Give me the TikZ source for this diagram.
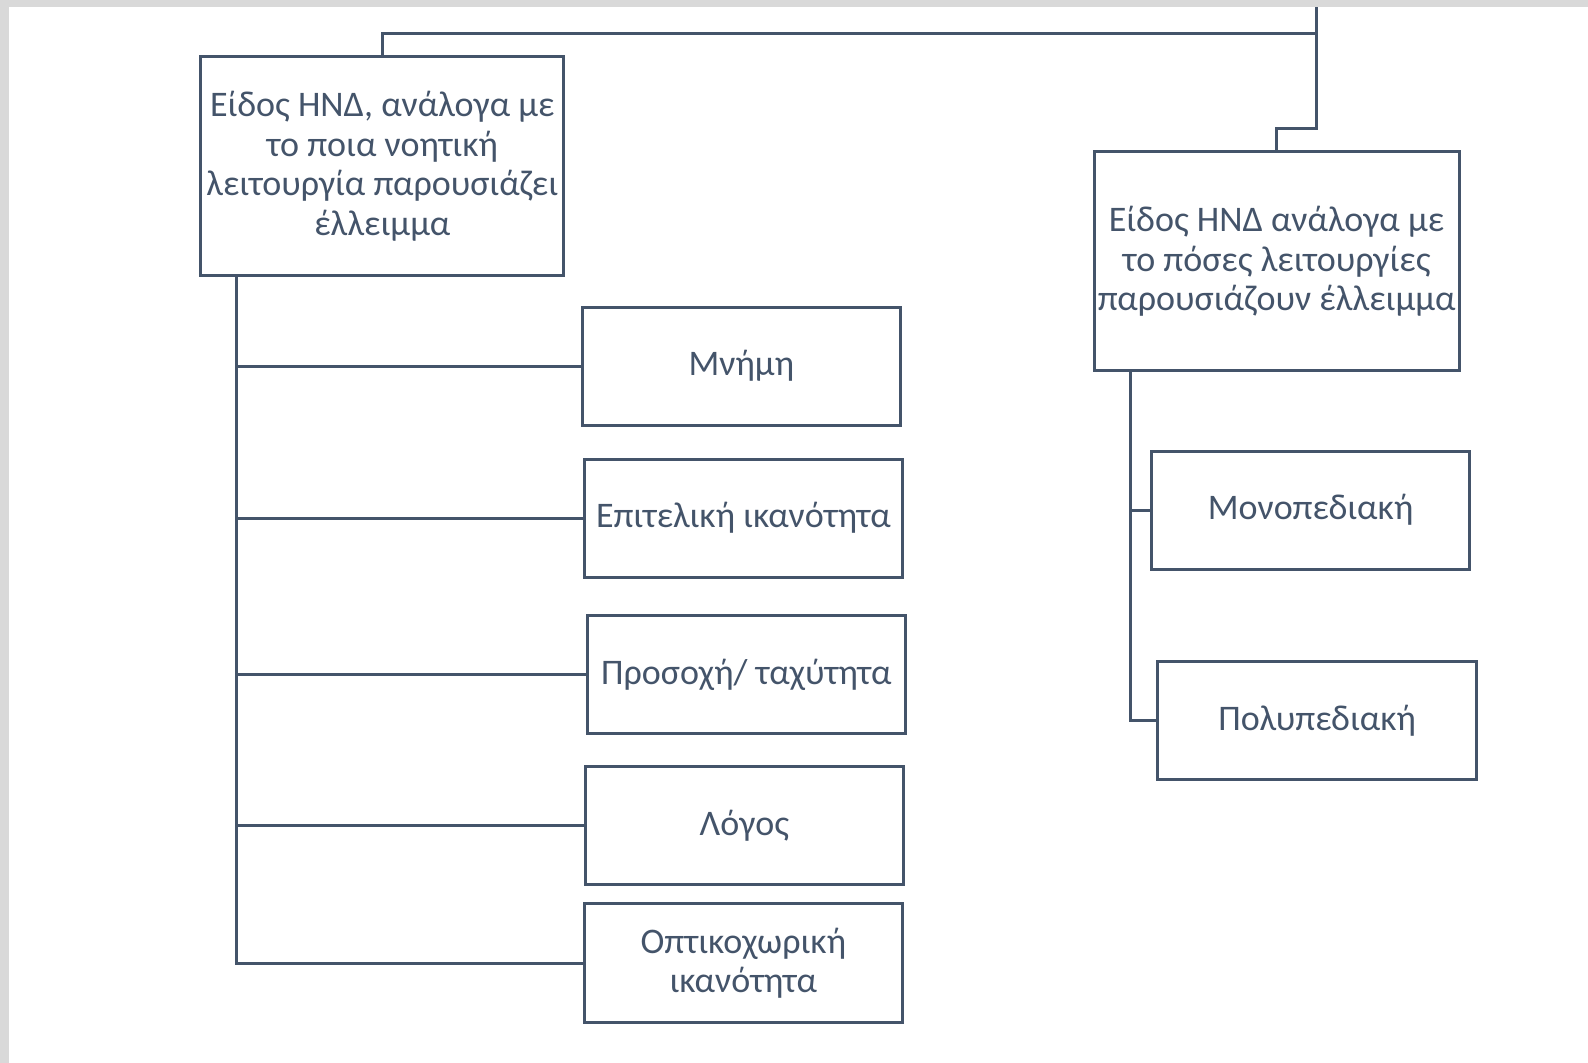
\documentclass[tikz,border=0pt]{standalone}
\usepackage{fontspec}
\setmainfont{Carlito}
\definecolor{ink}{HTML}{44546A}
\definecolor{frame}{HTML}{D9D9D9}
\begin{document}
\begin{tikzpicture}[x=1pt,y=-1pt,
  box/.style={draw=ink,line width=3pt,text=ink,align=center,inner sep=0pt,
    font=\fontsize{36}{39.5}\selectfont},
  wide/.style={box,minimum width=363pt,minimum height=219pt},
  leaf/.style={box,minimum width=318pt,minimum height=118pt},
  link/.style={draw=ink,line width=3pt}]
% page and grey frame strips
\fill[white] (0,0) rectangle (1588,1063);
\fill[frame] (0,0) rectangle (9,1063);
\fill[frame] (0,0) rectangle (1588,7);
\useasboundingbox (0,0) rectangle (1588,1063);

% category boxes
\node[wide] (cog) at (382.3,166.1) {Είδος ΗΝΔ, ανάλογα με\\το ποια νοητική\\λειτουργία παρουσιάζει\\έλλειμμα};
\node[wide,minimum width=365pt] (num) at (1276.6,261.3) {Είδος ΗΝΔ ανάλογα με\\το πόσες λειτουργίες\\παρουσιάζουν έλλειμμα};

% cognitive functions
\node[leaf] (mem) at (741.4,366.2) {Μνήμη};
\node[leaf] (exe) at (743.4,518.0) {Επιτελική ικανότητα};
\node[leaf] (att) at (746.4,674.5) {Προσοχή/ ταχύτητα};
\node[leaf] (lang) at (744.4,825.4) {Λόγος};
\node[leaf,minimum height=119pt] (vis) at (743.4,963.1) {Οπτικοχωρική\\ικανότητα};

% number of domains
\node[leaf] (mono) at (1310.6,510.0) {Μονοπεδιακή};
\node[leaf,minimum width=319pt] (poly) at (1317.2,720.6) {Πολυπεδιακή};

% connector anchors
\coordinate (top) at (1316.6,7);
\coordinate (hub) at (1316.6,33.4);
\coordinate (bend) at (1316.6,128.6);
\coordinate (lt) at (236,0);
\coordinate (rt) at (1130.3,0);

% upper links
\draw[link] (top) -- (hub) -- (bend) -| (num.north);
\draw[link] (cog.north) |- (hub);

% left trunk and branches
\draw[link] (cog.south -| lt) -- (vis.west -| lt) -- (vis.west);
\foreach \n in {mem,exe,att,lang}
  \draw[link] (\n.west -| lt) -- (\n.west);

% right trunk and branches
\draw[link] (num.south -| rt) -- (poly.west -| rt) -- (poly.west);
\draw[link] (mono.west -| rt) -- (mono.west);
\end{tikzpicture}
\end{document}
